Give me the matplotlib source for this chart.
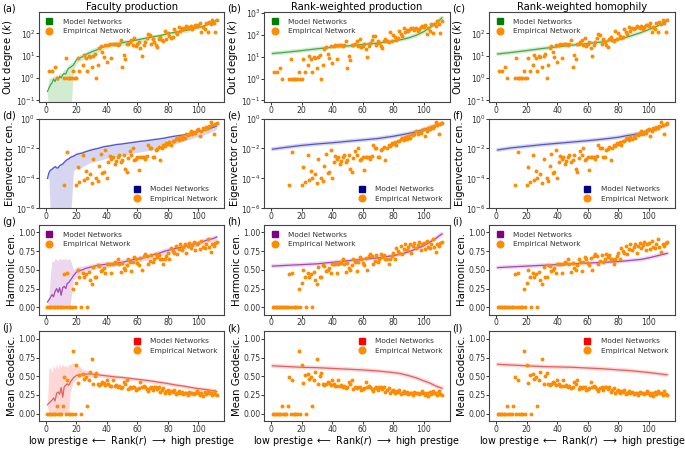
import numpy as np
import matplotlib.pyplot as plt
from matplotlib.lines import Line2D
from matplotlib.ticker import NullLocator, FixedLocator

## valori letti a occhio dalla figura originale

RANK = np.arange(1, 113)

# rete empirica (uguale nelle tre colonne); 0 = nessun valore
K_EMP = [0, 2, 0, 2, 0, 3, 1, 0, 0, 0, 0, 1, 8, 1, 1, 1, 1, 2, 1, 1,
         8, 2, 0, 4, 11, 8, 2, 10, 9, 3, 10, 12, 1, 4, 22, 28, 14, 9, 30, 5,
         30, 33, 8, 33, 33, 35, 30, 35, 52, 3, 11, 7, 35, 33, 40, 52, 30, 65, 28, 32,
         40, 22, 10, 30, 42, 60, 90, 85, 35, 55, 42, 30, 25, 55, 68, 50, 45, 130, 55, 100,
         80, 60, 70, 150, 110, 90, 200, 130, 170, 150, 180, 210, 200, 170, 210, 150, 190, 230, 250, 220,
         290, 110, 200, 150, 300, 120, 320, 260, 420, 300, 120, 420]

E_EMP = [0, 0, 0, 0, 0, 0, 0, 0, 0, 0, 0, 3.5e-5, 0, 5.5e-3, 0, 0, 0, 0, 0, 3.5e-5,
         6e-4, 6e-5, 0, 3.4e-3, 8e-5, 3e-4, 1e-4, 0, 2e-4, 5e-5, 1.9e-3, 0, 1e-4, 6.7e-5, 6.6e-4, 4.5e-3, 2.3e-4, 2.7e-4, 7.8e-3, 1e-4,
         1.2e-3, 3.2e-3, 2e-3, 2.9e-3, 9e-4, 1.4e-3, 2.8e-3, 3.4e-3, 1.3e-3, 1.8e-3, 3.4e-3, 4e-4, 2.5e-4, 2.4e-3, 6.4e-3, 3.7e-3, 1.1e-2, 1.6e-3, 1.9e-3, 2.5e-3,
         3.6e-4, 2.6e-3, 2.9e-3, 2.9e-3, 2e-3, 3.2e-3, 1.6e-2, 1e-2, 1e-2, 2.7e-3, 2.9e-3, 7.6e-3, 9e-3, 1.2e-2, 1.6e-3, 1.1e-2, 1.8e-2, 1.5e-2, 2.4e-2, 1.9e-2,
         2.7e-2, 1.8e-2, 3.1e-2, 3.4e-2, 4.6e-2, 5e-2, 3.5e-2, 6e-2, 4e-2, 7e-2, 5e-2, 0.1, 7.5e-2, 9e-2, 0.14, 0.1, 0.12, 0.11, 0.16, 0.19,
         7e-2, 0.15, 0.25, 0.2, 0.27, 0.22, 0.3, 0.6, 0.35, 0.1, 0.45, 0.5]

H_EMP = [0, 0, 0, 0, 0, 0, 0, 0, 0, 0, 0, 0.44, 0, 0.46, 0, 0, 0, 0.24, 0, 0.32,
         0.50, 0.40, 0, 0.46, 0.40, 0.45, 0.01, 0.47, 0.36, 0.31, 0.54, 0.41, 0.40, 0.56, 0.55, 0.48, 0.50, 0.52, 0.46, 0.58,
         0.58, 0.58, 0.46, 0.58, 0.60, 0.59, 0.64, 0.58, 0.47, 0.59, 0.52, 0.50, 0.57, 0.64, 0.61, 0.49, 0.61, 0.67, 0.65, 0.59,
         0.56, 0.66, 0.50, 0.68, 0.71, 0.69, 0.58, 0.62, 0.70, 0.61, 0.64, 0.71, 0.67, 0.70, 0.65, 0.64, 0.58, 0.64, 0.69, 0.72,
         0.65, 0.79, 0.75, 0.72, 0.82, 0.71, 0.78, 0.85, 0.76, 0.80, 0.84, 0.73, 0.82, 0.86, 0.79, 0.83, 0.87, 0.76, 0.84, 0.86,
         0.78, 0.88, 0.80, 0.79, 0.84, 0.91, 0.80, 0.74, 0.85, 0.82, 0.86, 0.87]

G_EMP = [0, 0, 0, 0, 0, 0, 0.10, 0, 0, 0, 0.10, 0.49, 0, 0.45, 0, 0, 0, 0.84, 0, 0.65,
         0.41, 0.52, 0, 0.53, 0.47, 0.49, 0.10, 0.45, 0.56, 0.73, 0.39, 0.50, 0.54, 0.39, 0.38, 0.40, 0.43, 0.41, 0.38, 0.45,
         0.39, 0.37, 0.37, 0.45, 0.37, 0.38, 0.36, 0.37, 0.34, 0.36, 0.42, 0.39, 0.45, 0.33, 0.35, 0.34, 0.36, 0.35, 0.31, 0.33,
         0.34, 0.42, 0.36, 0.37, 0.35, 0.33, 0.30, 0.34, 0.35, 0.32, 0.36, 0.35, 0.33, 0.36, 0.29, 0.31, 0.34, 0.28, 0.30, 0.32,
         0.27, 0.30, 0.29, 0.31, 0.26, 0.28, 0.30, 0.27, 0.29, 0.26, 0.28, 0.27, 0.25, 0.29, 0.27, 0.28, 0.26, 0.28, 0.30, 0.27,
         0.25, 0.28, 0.24, 0.29, 0.26, 0.30, 0.27, 0.28, 0.25, 0.30, 0.26, 0.25]

# modello "Faculty production": media e banda
X1 = [1, 2, 3, 4, 5, 6, 7, 8, 9, 10, 11, 12, 13, 14, 15, 16, 18, 20, 22, 24, 26, 28, 30,
      34, 38, 42, 46, 50, 54, 58, 62, 66, 70, 74, 78, 82, 86, 90, 94, 98, 102, 106, 110, 112]

K_FP = [0.25, 0.35, 0.5, 0.6, 0.9, 0.7, 1.0, 0.8, 1.2, 1.0, 1.4, 1.6, 1.5, 2.2, 2.8, 3.0,
        3.8, 6.5, 8, 9, 11, 13, 15,
        19, 25, 30, 33, 38, 43, 48, 55, 62, 70, 78, 90, 105, 115, 130, 145, 170, 200, 250, 330, 420]
K_FP_HI = [0.35, 1.0, 1.0, 1.1, 1.3, 1.2, 1.5, 1.3, 1.8, 1.6, 2.0, 2.5, 2.4, 3.2, 4.0, 4.5,
           5.5, 9, 11, 13, 15, 18, 21,
           26, 33, 40, 44, 50, 56, 62, 70, 78, 88, 97, 110, 128, 140, 158, 175, 205, 240, 300, 390, 480]
K_FP_LO = [0.2, 0.01, 0.01, 0.01, 0.01, 0.01, 0.01, 0.01, 0.01, 0.01, 0.01, 0.01, 0.01, 0.01, 0.01, 0.01,
           2.2, 4.5, 5.5, 6.5, 8, 9.5, 11,
           14, 19, 23, 26, 29, 33, 37, 43, 48, 55, 62, 72, 85, 94, 105, 118, 140, 165, 210, 280, 360]

E_FP = [1e-4, 2.5e-4, 3.5e-4, 4e-4, 5e-4, 6e-4, 5e-4, 5e-4, 7e-4, 8e-4, 9e-4, 1.2e-3, 1.5e-3, 1.8e-3, 2e-3, 2.5e-3,
        3e-3, 4e-3, 4.5e-3, 5e-3, 6e-3, 7e-3, 8e-3,
        1e-2, 1.3e-2, 1.5e-2, 1.8e-2, 2e-2, 2.3e-2, 2.6e-2, 3e-2, 3.3e-2, 3.8e-2, 4.3e-2, 5e-2, 6e-2, 7e-2, 8e-2,
        0.1, 0.12, 0.15, 0.2, 0.26, 0.32]
E_FP_HI = [1.3e-4, 3.5e-4, 5e-4, 6e-4, 7e-4, 8e-4, 7e-4, 7e-4, 1e-3, 1.1e-3, 1.3e-3, 1.7e-3, 2e-3, 2.5e-3, 2.8e-3, 3.5e-3,
           4e-3, 5.5e-3, 6e-3, 7e-3, 8e-3, 9.5e-3, 1.1e-2,
           1.3e-2, 1.7e-2, 2e-2, 2.3e-2, 2.6e-2, 3e-2, 3.4e-2, 3.9e-2, 4.3e-2, 4.9e-2, 5.5e-2, 6.5e-2, 7.8e-2, 9e-2, 0.1,
           0.13, 0.15, 0.19, 0.25, 0.33, 0.4]
E_FP_LO = [8e-5, 1e-4, 1e-7, 1e-7, 1e-7, 1e-7, 1e-7, 1e-7, 1e-7, 1e-7, 1e-7, 1e-7, 1e-7, 1e-7, 1e-7, 1e-7,
           3e-4, 5e-4, 4e-4, 6e-4, 8e-4, 1e-3, 1.2e-3,
           1.5e-3, 2e-3, 2.5e-3, 3e-3, 3.5e-3, 4e-3, 5e-3, 6e-3, 7e-3, 8e-3, 1e-2, 1.3e-2, 1.7e-2, 2.2e-2, 3e-2,
           4e-2, 5.5e-2, 7e-2, 0.1, 0.15, 0.2]

H_FP = [0.07, 0.10, 0.13, 0.17, 0.14, 0.21, 0.25, 0.20, 0.26, 0.16, 0.26, 0.28, 0.25, 0.32, 0.33, 0.36,
        0.42, 0.47, 0.49, 0.50, 0.52, 0.53, 0.54,
        0.56, 0.57, 0.58, 0.59, 0.60, 0.62, 0.64, 0.65, 0.67, 0.70, 0.72, 0.75, 0.77, 0.79, 0.81, 0.83, 0.85, 0.87, 0.90, 0.92, 0.94]
H_FP_HI = [0.08, 0.15, 0.45, 0.63, 0.60, 0.65, 0.64, 0.62, 0.66, 0.63, 0.65, 0.64, 0.66, 0.63, 0.65, 0.64,
           0.50, 0.54, 0.55, 0.55, 0.56, 0.57, 0.58,
           0.60, 0.61, 0.62, 0.63, 0.64, 0.66, 0.68, 0.69, 0.71, 0.74, 0.76, 0.79, 0.81, 0.83, 0.85, 0.87, 0.89, 0.91, 0.94, 0.96, 0.97]
H_FP_LO = [0.06, 0.0, 0.0, 0.0, 0.0, 0.0, 0.0, 0.0, 0.0, 0.0, 0.0, 0.0, 0.0, 0.0, 0.0, 0.05,
           0.36, 0.41, 0.44, 0.46, 0.48, 0.49, 0.50,
           0.52, 0.53, 0.54, 0.55, 0.56, 0.58, 0.60, 0.61, 0.63, 0.66, 0.68, 0.71, 0.73, 0.75, 0.77, 0.79, 0.81, 0.83, 0.86, 0.88, 0.90]

G_FP = [0.12, 0.14, 0.16, 0.18, 0.21, 0.17, 0.27, 0.29, 0.26, 0.35, 0.22, 0.36, 0.38, 0.40, 0.38, 0.42,
        0.48, 0.51, 0.52, 0.53, 0.53, 0.53, 0.53,
        0.52, 0.51, 0.50, 0.49, 0.485, 0.475, 0.465, 0.455, 0.445, 0.435, 0.42, 0.41, 0.395, 0.38, 0.37, 0.355,
        0.34, 0.33, 0.32, 0.305, 0.295]
G_FP_HI = [0.14, 0.60, 0.62, 0.55, 0.65, 0.60, 0.66, 0.60, 0.67, 0.62, 0.66, 0.63, 0.65, 0.62, 0.66, 0.66,
           0.68, 0.66, 0.63, 0.60, 0.58, 0.57, 0.56,
           0.55, 0.54, 0.53, 0.52, 0.51, 0.50, 0.49, 0.48, 0.47, 0.46, 0.45, 0.435, 0.42, 0.41, 0.395, 0.38,
           0.37, 0.36, 0.35, 0.335, 0.32]
G_FP_LO = [0.10, 0.0, 0.0, 0.0, 0.0, 0.0, 0.0, 0.0, 0.0, 0.0, 0.0, 0.0, 0.0, 0.0, 0.0, 0.30,
           0.42, 0.46, 0.48, 0.49, 0.49, 0.50, 0.49,
           0.49, 0.48, 0.47, 0.465, 0.46, 0.45, 0.44, 0.43, 0.42, 0.41, 0.395, 0.385, 0.37, 0.355, 0.345, 0.33,
           0.315, 0.305, 0.295, 0.28, 0.27]

# modelli "Rank-weighted production" (RP) e "Rank-weighted homophily" (RH)
X2 = [1, 10, 20, 30, 40, 50, 60, 70, 80, 85, 90, 95, 100, 104, 108, 112]

K_RP = [14, 16, 19, 23, 27, 31, 36, 42, 52, 60, 72, 95, 140, 210, 330, 600]
K_RH = [12, 14, 17, 21, 25, 30, 35, 42, 55, 66, 85, 110, 150, 190, 260, 400]
E_RP = [9e-3, 1.2e-2, 1.6e-2, 2e-2, 2.4e-2, 3e-2, 3.7e-2, 4.6e-2, 6.5e-2, 8e-2, 0.1, 0.13, 0.18, 0.25, 0.35, 0.5]
E_RH = [8e-3, 1.1e-2, 1.4e-2, 1.8e-2, 2.2e-2, 2.7e-2, 3.3e-2, 4.2e-2, 5.6e-2, 7e-2, 8.5e-2, 0.11, 0.15, 0.2, 0.27, 0.38]
H_RP = [0.55, 0.56, 0.57, 0.58, 0.60, 0.62, 0.64, 0.66, 0.69, 0.71, 0.74, 0.78, 0.82, 0.87, 0.92, 0.98]
H_RH = [0.53, 0.54, 0.55, 0.56, 0.57, 0.58, 0.59, 0.60, 0.61, 0.62, 0.63, 0.64, 0.66, 0.68, 0.70, 0.72]
G_RP = [0.64, 0.63, 0.62, 0.615, 0.605, 0.595, 0.585, 0.57, 0.55, 0.535, 0.51, 0.48, 0.44, 0.41, 0.37, 0.34]
G_RH = [0.66, 0.65, 0.64, 0.63, 0.625, 0.62, 0.61, 0.60, 0.585, 0.58, 0.57, 0.56, 0.55, 0.54, 0.53, 0.52]

TITOLI = ['Faculty production', 'Rank-weighted production', 'Rank-weighted homophily']
YLABELS = ['Out degree ($k$)', 'Eigenvector cen.', 'Harmonic cen.', 'Mean Geodesic.']
LETTERE = 'abcdefghijkl'

# colore linea, colore banda, colore quadrato legenda
COLORI = [('#45a845', '#7fc97f', '#008000'),
          ('#5555c8', '#8c8cd8', '#00008b'),
          ('#a548b0', '#c98fd0', '#800080'),
          ('#e0605f', '#ff8f8f', '#ff0000')]
ARANCIO = '#ff8c00'

EMP = [K_EMP, E_EMP, H_EMP, G_EMP]
FP = [(K_FP, K_FP_LO, K_FP_HI), (E_FP, E_FP_LO, E_FP_HI), (H_FP, H_FP_LO, H_FP_HI), (G_FP, G_FP_LO, G_FP_HI)]
RP = [K_RP, E_RP, H_RP, G_RP]
RH = [K_RH, E_RH, H_RH, G_RH]
LEG_LOC = ['upper left', 'lower right', 'upper left', 'upper right']


def legenda(ax, riga):
	h = [Line2D([], [], ls='', marker='s', ms=4.5, color=COLORI[riga][2]),
	     Line2D([], [], ls='', marker='o', ms=4.8, color=ARANCIO)]
	ax.legend(h, ['Model Networks', 'Empirical Network'], loc=LEG_LOC[riga], frameon=False,
	          fontsize=5.3, handlelength=1.0, handletextpad=1.3, labelspacing=0.45, borderaxespad=0.5,
	          labelcolor='#333333')


def formatta(ax, riga):
	if riga == 0:
		ax.set_yscale('log')
		ax.set_ylim(0.085, 900)
	elif riga == 1:
		ax.set_yscale('log')
		ax.set_ylim(1e-6, 1)
		ax.yaxis.set_major_locator(FixedLocator([1e-6, 1e-4, 1e-2, 1]))
	else:
		ax.set_ylim(-0.1, 1.1)
		ax.set_yticks([0, 0.25, 0.5, 0.75, 1.0])
		ax.set_yticklabels(['0.00', '0.25', '0.50', '0.75', '1.00'])
	ax.yaxis.set_minor_locator(NullLocator())
	ax.set_xlim(-4.5, 117)
	ax.set_xticks([0, 20, 40, 60, 80, 100])
	ax.tick_params(labelsize=5.6, length=2, width=0.7, pad=0.6, colors='#333333')
	for s in ax.spines.values():
		s.set_linewidth(0.8)
		s.set_color('#444444')


fig = plt.figure(figsize=(6.85, 4.49), dpi=100)
gs = fig.add_gridspec(4, 3, left=0.057, right=0.985, bottom=0.062, top=0.973, wspace=0.215, hspace=0.185)

for riga in range(4):
	emp = np.array(EMP[riga], dtype=float)
	if riga < 2:
		ok = emp > 0
	else:
		ok = np.ones_like(emp, dtype=bool)
	for col in range(3):
		ax = fig.add_subplot(gs[riga, col])
		linea, banda, _ = COLORI[riga]
		if col == 0:
			media, lo, hi = FP[riga]
			ax.fill_between(X1, lo, hi, color=banda, alpha=0.35, lw=0)
			ax.plot(X1, media, color=linea, lw=0.9)
		else:
			media = RP[riga] if col == 1 else RH[riga]
			ax.plot(X2, media, color=banda, lw=3, alpha=0.35, solid_capstyle='round')
			ax.plot(X2, media, color=linea, lw=0.9)
		ax.scatter(RANK[ok], emp[ok], s=8, color=ARANCIO, lw=0, zorder=3)
		formatta(ax, riga)
		if riga == 0 and col == 1:
			ax.set_ylim(0.085, 1100)
		ax.set_ylabel(YLABELS[riga], fontsize=7.3, labelpad=0.8)
		if riga == 0:
			ax.set_title(TITOLI[col], fontsize=7.2, pad=0.8)
		if riga == 3:
			ax.set_xlabel(r'low prestige $\longleftarrow$ Rank($r$) $\longrightarrow$ high prestige', fontsize=6.9, labelpad=0.5)
		legenda(ax, riga)
		ax.text(-0.2, 1.035, '(' + LETTERE[riga * 3 + col] + ')', transform=ax.transAxes,
		        fontsize=7, ha='left', va='center')

fig.savefig('out.png', dpi=100)
